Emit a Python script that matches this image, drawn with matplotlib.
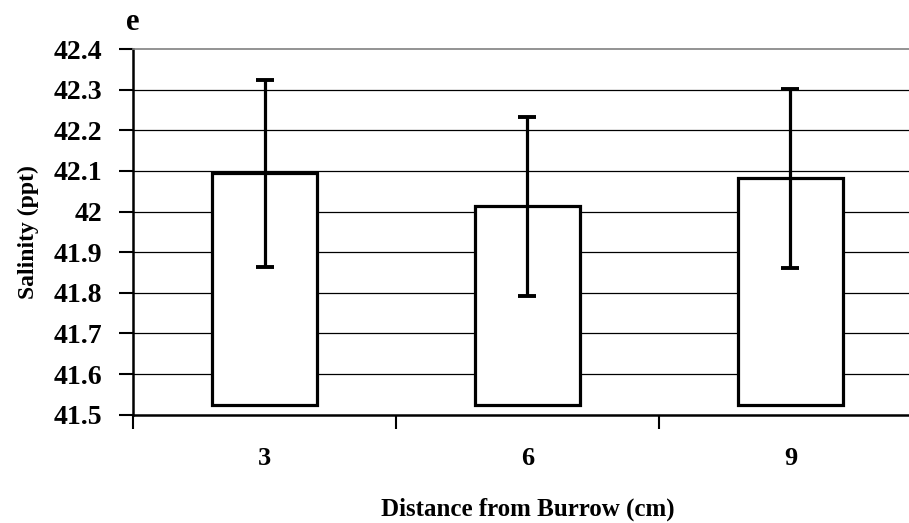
import matplotlib.pyplot as plt
import numpy as np

# salinity at each distance from the burrow
distancias = ["3", "6", "9"]
media = [42.094, 42.013, 42.082]
erro = [0.230, 0.220, 0.220]

base = 41.524  # bar bottoms sit just above the axis floor

plt.rcParams["font.family"] = ["Liberation Serif", "DejaVu Serif"]
plt.rcParams["font.weight"] = "bold"
plt.rcParams["axes.labelweight"] = "bold"

fig = plt.figure(figsize=(9.09, 5.23), dpi=100)
ax = fig.add_axes([133 / 909, 108.3 / 523, 789 / 909, 365.7 / 523])

x = np.arange(len(distancias)) + 0.5
alturas = np.array(media) - base
ax.bar(x, alturas, bottom=base, width=0.4, color="white",
       edgecolor="black", linewidth=2.3, zorder=3)
ax.errorbar(x, media, yerr=erro, fmt="none", ecolor="black",
            elinewidth=2.3, capsize=6.5, capthick=2.8, zorder=4)

ax.set_ylim(41.5, 42.4)
ax.set_xlim(0, 3)
ax.set_yticks(np.arange(41.5, 42.41, 0.1))
ax.set_yticklabels(["41.5", "41.6", "41.7", "41.8", "41.9", "42",
                    "42.1", "42.2", "42.3", "42.4"], fontsize=20)
ax.set_xticks([0, 1, 2, 3])
ax.set_xticklabels([])
ax.set_xticks(x, minor=True)
ax.set_xticklabels(distancias, minor=True, fontsize=19)
ax.tick_params(axis="x", which="minor", length=0, pad=23)
ax.tick_params(axis="x", which="major", length=10, width=1.5, direction="out")
ax.tick_params(axis="y", length=10, width=1.5, direction="out", pad=12)

for y in np.arange(41.6, 42.35, 0.1):
    ax.axhline(y, color="black", linewidth=0.9, zorder=1)

ax.spines["top"].set_color("#808080")
ax.spines["top"].set_linewidth(1.2)
ax.spines["right"].set_visible(False)
ax.spines["left"].set_linewidth(1.8)
ax.spines["bottom"].set_linewidth(1.8)

ax.set_xlabel("Distance from Burrow (cm)", fontsize=18, labelpad=20)
ax.set_ylabel("Salinity (ppt)", fontsize=17, labelpad=11)
fig.text(133 / 909, 1 - 22 / 523, "e", fontsize=22, fontweight="bold",
         ha="center", va="center")

fig.savefig("out.png", dpi=100)
plt.close()
